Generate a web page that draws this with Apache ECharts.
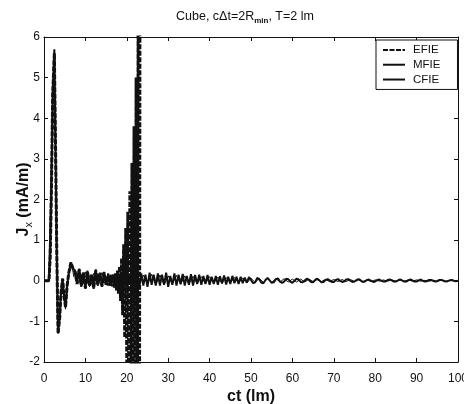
<html>
<head>
<script src="https://cdn.jsdelivr.net/npm/echarts@6/dist/echarts.min.js"></script>
<style>
    body { margin: 0; padding: 0; background: #fff; }
    #content { width: 464px; height: 404px; }
</style>
</head>
<body>
<div id="content"></div>
<script type="text/javascript">
    // early transient (ct in lm, value in mA/m)
    var cfieEarlyT = [0, 1.2, 1.5, 1.8, 2.1, 2.5, 2.8, 3.1, 3.4, 3.8, 4.1, 4.5, 4.8, 5.2, 5.6, 6.0, 6.5, 7.0];
    var cfieEarly = [0, 0, 0.6, 2.3, 4.6, 5.7, 3.2, 0.6, -1.3, -0.9, -0.3, 0.05, -0.35, -0.65, -0.1, 0.2, 0.45, 0.3];
    // tail, one sample every 0.5 lm from ct = 7.5
    var cfieTail = [
        0.25, -0.05, 0.3, -0.15, 0.2, -0.2, 0.25, -0.1, 0.15, -0.2, 0.28, -0.12, 0.2, -0.15, 0.22, -0.1, 0.18, -0.12, 0.15, -0.1,
        0.12, -0.1, 0.15, -0.12, 0.1, -0.08, 0.12, -0.1, 0.15, -0.12, 0.2, -0.15, 0.18, -0.12, 0.15, -0.15, 0.2, -0.1, 0.15, -0.12,
        0.18, -0.12, 0.15, -0.1, 0.2, -0.15, 0.12, -0.1, 0.18, -0.12, 0.15, -0.08, 0.17, -0.12, 0.12, -0.1, 0.16, -0.12, 0.14, -0.08,
        0.15, -0.1, 0.12, -0.08, 0.14, -0.1, 0.1, -0.08, 0.12, -0.1, 0.11, -0.07, 0.13, -0.09, 0.1, -0.08, 0.12, -0.06, 0.1, -0.08,
        0.1, -0.06, 0.08, -0.05, 0.09, 0.02, -0.06, -0.04, 0.07, 0.03, -0.05, -0.06, 0.02, 0.07, 0.01, -0.05, -0.04, 0.04, 0.06, -0.02,
        -0.05, -0.02, 0.05, 0.04, -0.02, -0.05, 0.0, 0.05, 0.03, -0.03, -0.04, 0.01, 0.05, 0.02, -0.03, -0.04, 0.02, 0.05, 0.01, -0.04,
        -0.03, 0.02, 0.04, 0.01, -0.03, -0.03, 0.02, 0.04, 0.0, -0.03, -0.02, 0.03, 0.04, 0.0, -0.03, -0.02, 0.02, 0.04, 0.01, -0.03,
        -0.02, 0.02, 0.03, 0.0, -0.03, -0.02, 0.02, 0.03, 0.0, -0.02, -0.02, 0.02, 0.03, 0.01, -0.02, -0.02, 0.01, 0.03, 0.01, -0.02,
        -0.02, 0.01, 0.03, 0.01, -0.02, -0.02, 0.01, 0.03, 0.0, -0.02, -0.01, 0.02, 0.02, 0.0, -0.02, -0.01, 0.02, 0.02, 0.0, -0.02,
        -0.01, 0.01, 0.02, 0.0, -0.01, 0.0
    ];
    var cfieTailStart = 7.5, cfieTailStep = 0.5;

    var mfieEarlyT = [0, 1.1, 1.4, 1.7, 2.0, 2.4, 2.7, 3.0, 3.3, 3.7, 4.0, 4.4, 4.8, 5.2, 5.6, 6.0, 6.4, 6.8, 7.2];
    var mfieEarly = [0, 0, 1.2, 2.6, 4.2, 5.5, 3.6, 0.9, -1.2, -1.0, -0.4, 0.0, -0.3, -0.7, -0.2, 0.15, 0.4, 0.35, 0.1];
    // tail, one sample every 1 lm from ct = 8
    var mfieTail = [
        0.2, -0.1, 0.22, -0.15, 0.18, -0.12, 0.2, -0.1, 0.15, -0.1,
        0.12, -0.08, 0.1, -0.1, 0.15, -0.12, 0.14, -0.1, 0.16, -0.1,
        0.14, -0.1, 0.12, -0.08, 0.13, -0.09, 0.12, -0.08, 0.11, -0.07,
        0.1, -0.07, 0.1, -0.06, 0.09, -0.06, 0.08, -0.05, 0.08, -0.05,
        0.07, -0.05, 0.06, -0.04, 0.06, -0.04, 0.05, -0.04, 0.05, -0.03,
        0.05, -0.03, 0.04, -0.03, 0.04, -0.03, 0.04, -0.02, 0.03, -0.02,
        0.03, -0.02, 0.03, -0.02, 0.03, -0.02, 0.03, -0.02, 0.02, -0.02,
        0.02, -0.02, 0.02, -0.01, 0.02, -0.01, 0.02, -0.01, 0.02, -0.01,
        0.02, -0.01, 0.02, -0.01, 0.01, -0.01, 0.01, -0.01, 0.01, -0.01, 0.01, 0, 0
    ];
    var mfieTailStart = 8, mfieTailStep = 1;

    // EFIE: unstable, blows up around ct = 23
    var efieT = [0, 1.2, 1.5, 1.8, 2.1, 2.5, 2.8, 3.1, 3.4, 3.8, 4.1, 4.5, 4.8, 5.2, 5.6, 6.0, 6.5, 7.0,
        7.5, 8, 8.5, 9, 9.5, 10, 10.5, 11, 11.5, 12, 12.5, 13, 13.5, 14, 14.5,
        15, 15.25, 15.5, 15.75, 16, 16.25, 16.5, 16.75, 17, 17.25, 17.5, 17.75, 18, 18.25, 18.5, 18.75,
        19, 19.25, 19.5, 19.75, 20, 20.25, 20.5, 20.75, 21, 21.25, 21.5, 21.75, 22, 22.25, 22.5, 22.75, 23, 23.25];
    var efie = [0, 0, 0.6, 2.3, 4.6, 5.6, 3.2, 0.6, -1.3, -0.9, -0.3, 0.05, -0.35, -0.65, -0.1, 0.2, 0.45, 0.3,
        0.22, -0.08, 0.28, -0.12, 0.2, -0.18, 0.22, -0.12, 0.15, -0.18, 0.25, -0.1, 0.18, -0.13, 0.2,
        -0.1, 0.12, -0.12, 0.1, -0.12, 0.13, -0.14, 0.15, -0.17, 0.18, -0.24, 0.25, -0.32, 0.35, -0.5, 0.55,
        -0.85, 0.9, -1.4, 1.3, -2.0, 1.7, -2.6, 2.2, -3.2, 2.9, -4.0, 3.8, -5.2, 5.0, -7, 7, -10, 14];

    var xTicks = [0, 100, 10];
    var yTicks = [-2, 6, 1];

    var cfieData = [], mfieData = [], efieData = [];
    for (var c = 0; c < cfieEarlyT.length; c++) cfieData.push([cfieEarlyT[c], cfieEarly[c]]);
    for (var c = 0; c < cfieTail.length; c++) cfieData.push([cfieTailStart + c * cfieTailStep, cfieTail[c]]);
    for (var c = 0; c < mfieEarlyT.length; c++) mfieData.push([mfieEarlyT[c], mfieEarly[c]]);
    for (var c = 0; c < mfieTail.length; c++) mfieData.push([mfieTailStart + c * mfieTailStep, mfieTail[c]]);
    for (var c = 0; c < efieT.length; c++) efieData.push([efieT[c], efie[c]]);

    var font = "'Liberation Sans', Arial, sans-serif";
    var chart = echarts.init(document.getElementById('content'));

    var tickAxis = function (extra) {
        return Object.assign({
            type: 'value',
            nameMoveOverlap: false,
            axisLine: { show: true, onZero: false, lineStyle: { color: '#111', width: 1 } },
            axisTick: { show: true, inside: true, length: 4, lineStyle: { color: '#111' } },
            splitLine: { show: false }
        }, extra);
    };

    var option = {
        animation: false,
        backgroundColor: '#fff',
        color: ['#111', '#111', '#111'],
        title: {
            text: 'Cube, c\u0394t=2R{sub|min}, T=2 lm',
            left: 171,
            top: 0,
            textStyle: {
                fontFamily: font, fontSize: 12.5, fontWeight: 'normal', color: '#111',
                rich: { sub: { fontFamily: font, fontSize: 8, fontWeight: 'bold', color: '#111', padding: [9, 0, 0, 0] } }
            }
        },
        legend: {
            orient: 'vertical',
            left: 376,
            top: 40,
            itemWidth: 22,
            itemHeight: 8,
            itemGap: -5,
            padding: [0, 17, 0, 6],
            borderColor: '#111',
            borderWidth: 1,
            backgroundColor: '#fff',
            itemStyle: { opacity: 0 },
            textStyle: { fontFamily: font, fontSize: 11.5, color: '#111', lineHeight: 14, padding: [0, 0, 0, 3] },
            data: ['EFIE', 'MFIE', 'CFIE']
        },
        grid: { left: 44, right: 6, top: 37, bottom: 42, outerBoundsMode: 'none' },
        xAxis: [
            tickAxis({
                min: xTicks[0], max: xTicks[1], interval: xTicks[2],
                position: 'bottom',
                name: 'ct (lm)',
                nameLocation: 'middle',
                nameGap: 21,
                nameTextStyle: { fontFamily: font, fontSize: 16, fontWeight: 'bold', color: '#111' },
                axisLabel: { fontFamily: font, fontSize: 12, color: '#111', margin: 6 }
            }),
            tickAxis({
                min: xTicks[0], max: xTicks[1], interval: xTicks[2],
                position: 'top',
                axisLabel: { show: false }
            })
        ],
        yAxis: [
            tickAxis({
                min: yTicks[0], max: yTicks[1], interval: yTicks[2],
                position: 'left',
                name: 'J{sub|x} (mA/m)',
                nameLocation: 'middle',
                nameGap: 6,
                nameRotate: 90,
                nameTextStyle: {
                    fontFamily: font, fontSize: 16, fontWeight: 'bold', color: '#111',
                    rich: { sub: { fontFamily: font, fontSize: 11, fontWeight: 'normal', color: '#111', padding: [9, 0, 0, 0] } }
                },
                axisLabel: { fontFamily: font, fontSize: 12, color: '#111', margin: 4 }
            }),
            tickAxis({
                min: yTicks[0], max: yTicks[1], interval: yTicks[2],
                position: 'right',
                axisLabel: { show: false }
            })
        ],
        series: [
            {
                name: 'EFIE', type: 'line', data: efieData, symbol: 'none', clip: true,
                z: 1,
                lineStyle: { color: '#111', width: 3, type: [5, 1.5] }
            },
            {
                name: 'MFIE', type: 'line', data: mfieData, symbol: 'none', clip: true,
                z: 2,
                lineStyle: { color: '#111', width: 1 }
            },
            {
                name: 'CFIE', type: 'line', data: cfieData, symbol: 'none', clip: true,
                z: 3,
                lineStyle: { color: '#111', width: 2 }
            }
        ]
    };
    chart.setOption(option);
</script>
</body>
</html>
